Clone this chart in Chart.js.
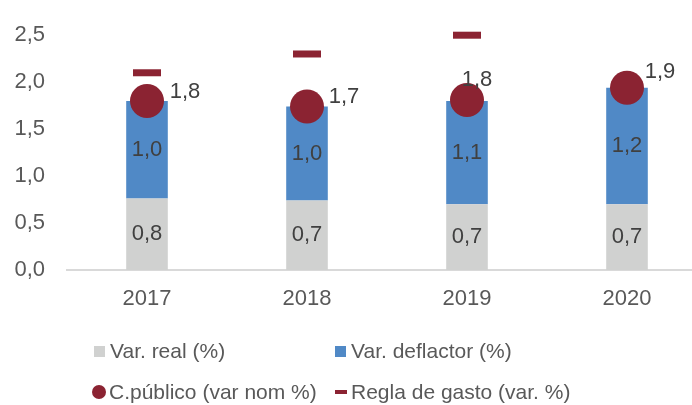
<!DOCTYPE html>
<html>
<head>
<meta charset="utf-8">
<script src="https://cdn.jsdelivr.net/npm/chart.js@4/dist/chart.umd.min.js"></script>
<style>
    html, body { margin: 0; padding: 0; background: #fff; overflow: hidden; }
    #wrap { position: relative; width: 692px; height: 405px; overflow: hidden; }
    #chart { position: absolute; left: 0; top: 0; }
    .lg { position: absolute; display: flex; align-items: center; font: 21px "Liberation Sans", Arial, sans-serif; color: #595959; white-space: nowrap; }
    .mk { display: inline-block; margin-right: 5px; }
</style>
</head>
<body>
<div id="wrap">
    <canvas id="chart" width="692" height="405"></canvas>
    <div id="legend"></div>
</div>
<script>
// Data
const years = ['2017', '2018', '2019', '2020'];
const varReal = [0.76, 0.74, 0.70, 0.70];
const varDeflactor = [1.04, 1.00, 1.10, 1.24];
const cPublico = [1.80, 1.74, 1.81, 1.94];
const reglaGasto = [2.1, 2.3, 2.5, null];
const yTicks = [0, 0.5, 1.0, 1.5, 2.0, 2.5];

const seriesNames = ['Var. real (%)', 'Var. deflactor (%)', 'C.público (var nom %)', 'Regla de gasto (var. %)'];

// label nudges for the C.público values (px, like the manual placement in the source)
const cLabelNudge = [[38, -9], [37, -10], [10, -20], [33, -16]];

const GRAY = '#d0d1d0';
const BLUE = '#5089c6';
const RED = '#8b2332';
const TXT = '#595959';
const FONT = '"Liberation Sans", Arial, sans-serif';

const fmt = v => v.toFixed(1).replace('.', ',');

/**
 * The source plot area runs past the right edge of the picture,
 * so stretch the x scale after layout.
 */
const widenPlot = {
    id: 'widenPlot',
    afterLayout(chart) {
        const s = chart.scales.x;
        s.width = 640;
        s.right = s.left + 640;
        s.configure();
    }
};

/**
 * Draws the value labels (bars centred, circles nudged to the side).
 */
const valueLabels = {
    id: 'valueLabels',
    afterDatasetsDraw(chart) {
        const ctx = chart.ctx;
        ctx.save();
        ctx.font = '22px ' + FONT;
        ctx.fillStyle = '#404040';
        ctx.textAlign = 'center';
        ctx.textBaseline = 'middle';
        [0, 1].forEach(di => {
            chart.getDatasetMeta(di).data.forEach((bar, i) => {
                const v = chart.data.datasets[di].data[i];
                ctx.fillText(fmt(v), bar.x, (bar.y + bar.base) / 2);
            });
        });
        chart.getDatasetMeta(2).data.forEach((pt, i) => {
            const n = cLabelNudge[i];
            ctx.fillText(fmt(cPublico[i]), pt.x + n[0], pt.y + n[1]);
        });
        ctx.restore();
    }
};

const chart = new Chart(document.getElementById('chart'), {
    data: {
        labels: years,
        datasets: [
            { type: 'bar', label: seriesNames[0], data: varReal, backgroundColor: GRAY, order: 2 },
            { type: 'bar', label: seriesNames[1], data: varDeflactor, backgroundColor: BLUE, order: 3 },
            {
                type: 'line', label: seriesNames[2], data: cPublico, stack: 'c', showLine: false, clip: false,
                pointRadius: 17, pointHoverRadius: 17, pointBackgroundColor: RED, pointBorderColor: RED, pointBorderWidth: 0, order: 1
            },
            {
                type: 'line', label: seriesNames[3], data: reglaGasto, stack: 'r', showLine: false, clip: false,
                pointStyle: 'line', pointRadius: 14, pointHoverRadius: 14, pointBorderColor: RED, pointBorderWidth: 7, order: 0
            }
        ]
    },
    options: {
        responsive: false,
        animation: false,
        layout: { padding: { top: 25, right: 0, left: 0, bottom: 0 } },
        datasets: { bar: { categoryPercentage: 1, barPercentage: 0.26 } },
        plugins: { legend: { display: false }, tooltip: { enabled: false } },
        scales: {
            x: {
                stacked: true,
                grid: { display: false, drawTicks: false },
                border: { display: true, color: '#d9d9d9', width: 2 },
                ticks: { color: TXT, font: { family: FONT, size: 22 }, padding: 16 },
                afterFit: s => { s.height = 135; }
            },
            y: {
                stacked: true,
                min: 0, max: 2.5,
                grid: { display: false, drawTicks: false },
                border: { display: false },
                afterBuildTicks: s => { s.ticks = yTicks.map(v => ({ value: v })); },
                ticks: { color: TXT, font: { family: FONT, size: 22 }, padding: 22, callback: v => fmt(v) },
                afterFit: s => { s.width = 67; }
            }
        }
    },
    plugins: [widenPlot, valueLabels]
});

// HTML legend in two aligned columns
const legendPos = [[94, 351], [335, 351], [92, 392], [335, 392]];
const markers = [
    `<span class="mk" style="width:11px;height:11px;background:${GRAY}"></span>`,
    `<span class="mk" style="width:11px;height:11px;background:${BLUE}"></span>`,
    `<span class="mk" style="width:14px;height:14px;border-radius:50%;background:${RED};margin-right:3px"></span>`,
    `<span class="mk" style="width:12px;height:4px;background:${RED};margin-right:4px"></span>`
];
document.getElementById('legend').innerHTML = seriesNames.map((name, i) =>
    `<div class="lg" style="left:${legendPos[i][0]}px;top:${legendPos[i][1] - 13}px;height:26px">${markers[i]}<span>${name}</span></div>`
).join('');
</script>
</body>
</html>
